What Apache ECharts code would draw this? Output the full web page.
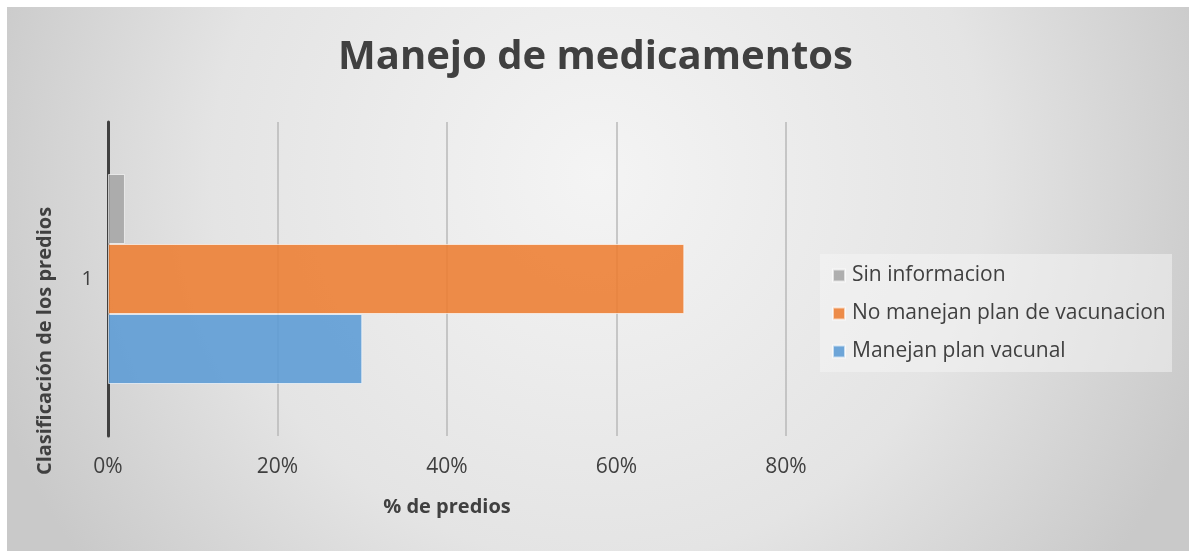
<!DOCTYPE html>
<html>
<head>
<meta charset="utf-8">
<script src="https://cdn.jsdelivr.net/npm/echarts@6/dist/echarts.min.js"></script>
<style>
  html, body { margin: 0; padding: 0; background: #ffffff; }
  #chart { width: 1191px; height: 551px; }
</style>
</head>
<body>
<div id="chart"></div>
<script>
// Category and series values (% of properties)
const categories = ['1'];
const seriesNames = ['Sin informacion', 'No manejan plan de vacunacion', 'Manejan plan vacunal'];
const sinInformacion = [2];
const noManejanPlan = [68];
const manejanPlan = [30];
const xTicks = [0, 20, 40, 60, 80];

const FONT = '"Open Sans", "Noto Sans", sans-serif';
const TEXT = '#404040';

const chart = echarts.init(document.getElementById('chart'), null, { renderer: 'canvas' });

const barStyle = (color) => ({
  color: color,
  opacity: 0.88,
  borderColor: 'rgba(255,255,255,0.7)',
  borderWidth: 1
});

chart.setOption({
  animation: false,
  backgroundColor: 'transparent',
  graphic: [
    {
      type: 'rect',
      z: -10,
      silent: true,
      shape: { x: 7, y: 7, width: 1182, height: 560 },
      style: {
        fill: {
          type: 'radial', x: 0.5, y: 0.3, r: 1.15,
          colorStops: [
            { offset: 0, color: '#f4f4f4' },
            { offset: 0.6, color: '#e4e4e4' },
            { offset: 1, color: '#c9c9c9' }
          ]
        }
      }
    },
    {
      type: 'rect',
      z: -5,
      silent: true,
      shape: { x: 820, y: 254, width: 352, height: 118 },
      style: { fill: 'rgba(246,246,246,0.5)' }
    },
    {
      type: 'text',
      silent: true,
      x: 45, y: 341,
      rotation: Math.PI / 2,
      style: {
        text: 'Clasificación de los predios',
        fontFamily: FONT, fontSize: 20, fontWeight: 'bold',
        fill: TEXT, align: 'center', verticalAlign: 'middle'
      }
    }
  ],
  title: {
    text: 'Manejo de medicamentos',
    left: 'center',
    top: 33,
    textStyle: { fontFamily: FONT, fontSize: 40, fontWeight: 'bold', color: TEXT }
  },
  legend: {
    orient: 'vertical',
    left: 827,
    top: 257,
    itemWidth: 12,
    itemHeight: 12,
    itemGap: 11,
    icon: 'rect',
    data: seriesNames,
    textStyle: { fontFamily: FONT, fontSize: 21, lineHeight: 27, color: TEXT, padding: [0, 0, 0, 2] }
  },
  grid: { left: 108, right: 405, top: 122, bottom: 115, containLabel: false },
  xAxis: {
    type: 'value',
    min: xTicks[0],
    max: xTicks[xTicks.length - 1],
    interval: 20,
    name: '% de predios',
    nameLocation: 'middle',
    nameGap: 61,
    nameTextStyle: { fontFamily: FONT, fontSize: 20, fontWeight: 'bold', color: TEXT },
    axisLine: { show: false },
    axisTick: { show: false },
    axisLabel: {
      formatter: '{value}%',
      margin: 21,
      fontFamily: FONT, fontSize: 21, color: TEXT
    },
    splitLine: { show: true, lineStyle: { color: '#b8b8b8', width: 1.5 } }
  },
  yAxis: {
    type: 'category',
    data: categories,
    axisLine: { show: true, lineStyle: { color: '#404040', width: 3 } },
    axisTick: { show: false },
    axisLabel: { margin: 15, fontFamily: FONT, fontSize: 20, color: TEXT }
  },
  series: [
    { name: seriesNames[0], type: 'bar', data: sinInformacion, barWidth: 70, barGap: '0%', itemStyle: barStyle('#a5a5a5') },
    { name: seriesNames[1], type: 'bar', data: noManejanPlan, barWidth: 70, barGap: '0%', itemStyle: barStyle('#ed7d31') },
    { name: seriesNames[2], type: 'bar', data: manejanPlan, barWidth: 70, barGap: '0%', itemStyle: barStyle('#5b9bd5') }
  ]
});
</script>
</body>
</html>
